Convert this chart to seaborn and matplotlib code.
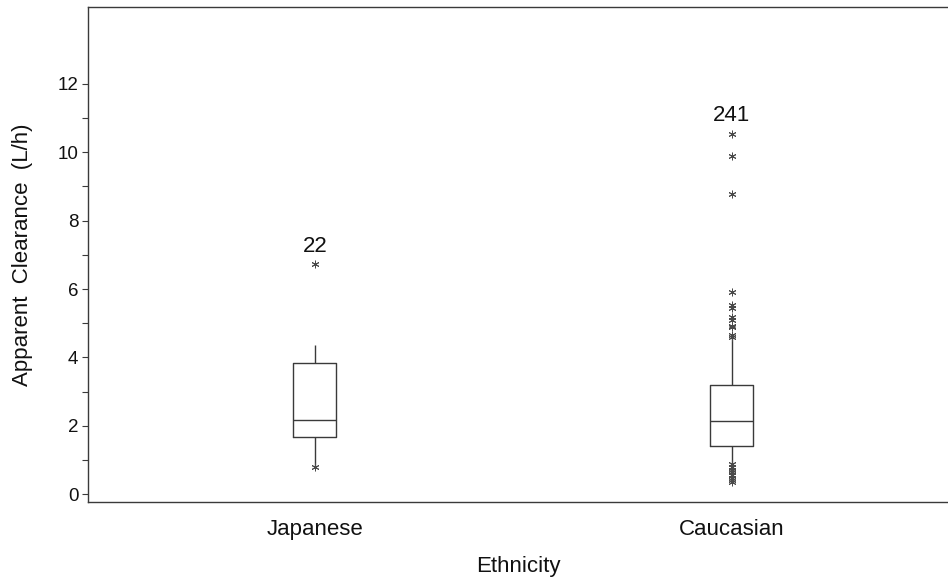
import matplotlib
matplotlib.use("Agg")
import matplotlib.pyplot as plt
import seaborn as sns
import pandas as pd

# Five-number summaries of apparent clearance (L/h) by ethnicity
groups = ["Japanese", "Caucasian"]
whisker_low = [0.80, 0.36]
q1 = [1.66, 1.40]
median = [2.17, 2.13]
q3 = [3.83, 3.18]
whisker_high = [4.36, 4.60]

# Individual observations flagged outside the whiskers
japanese_outliers = [6.72, 0.78]
caucasian_outliers = [10.54, 9.88, 8.78, 5.90, 5.52, 5.45, 5.18, 5.10,
                      4.93, 4.88, 4.66, 4.60,
                      0.88, 0.80, 0.70, 0.66, 0.64, 0.55, 0.48, 0.42, 0.36]

# Subject IDs labelled above the highest observation of each group
subject_ids = ["22", "241"]

sns.set_theme(style="ticks")
plt.rcParams["font.family"] = ["Liberation Sans", "DejaVu Sans"]

summary = pd.DataFrame({
    "Ethnicity": [g for g in groups for _ in range(5)],
    "clearance": [v for i in range(len(groups))
                  for v in (whisker_low[i], q1[i], median[i], q3[i], whisker_high[i])],
})
outliers = pd.DataFrame({
    "Ethnicity": ["Japanese"] * len(japanese_outliers) + ["Caucasian"] * len(caucasian_outliers),
    "clearance": japanese_outliers + caucasian_outliers,
})

line_col = "#3a3a3a"
text_col = "#111111"
fig = plt.figure(figsize=(9.48, 5.82), dpi=100)
ax = fig.add_axes([88 / 948, 1 - 502 / 582, 1 - 88 / 948, (502 - 7) / 582])

sns.boxplot(data=summary, x="Ethnicity", y="clearance", order=groups,
            whis=(0, 100), width=0.103, fill=False, color=line_col,
            linewidth=1.0, showcaps=False, showfliers=False, ax=ax)

sns.stripplot(data=outliers, x="Ethnicity", y="clearance", order=groups,
              jitter=False, marker=(6, 2, 0), size=5, color="#4a4a4a",
              edgecolor="#4a4a4a", linewidth=0.7, ax=ax)

for i, (sid, pts) in enumerate(zip(subject_ids, [japanese_outliers, caucasian_outliers])):
    ax.annotate(sid, xy=(i, max(pts)), xytext=(0, 9), textcoords="offset points",
                ha="center", va="baseline", fontsize=16, color=text_col)

ax.set_xlim(-0.544, 1.518)
ax.set_ylim(-0.23, 14.25)
ax.set_yticks(range(0, 13, 2))
ax.set_yticks(range(1, 12, 2), minor=True)

for side in ["left", "bottom", "top"]:
    ax.spines[side].set_visible(True)
    ax.spines[side].set_color(line_col)
    ax.spines[side].set_linewidth(1.0)
ax.spines["right"].set_visible(False)

ax.tick_params(axis="y", which="both", direction="out", length=4, width=0.8,
               color=line_col, labelsize=13.5, pad=3, labelcolor=text_col)
ax.tick_params(axis="x", length=0, labelsize=16, pad=12, labelcolor=text_col)

ax.set_xlabel("Ethnicity", fontsize=16, color=text_col)
ax.set_ylabel("Apparent  Clearance  (L/h)", fontsize=16, color=text_col)
ax.xaxis.set_label_coords(0.5, -(556 - 502) / 495)
ax.yaxis.set_label_coords(-(88 - 33) / 860, 0.5)

fig.savefig("out.png", dpi=100)
